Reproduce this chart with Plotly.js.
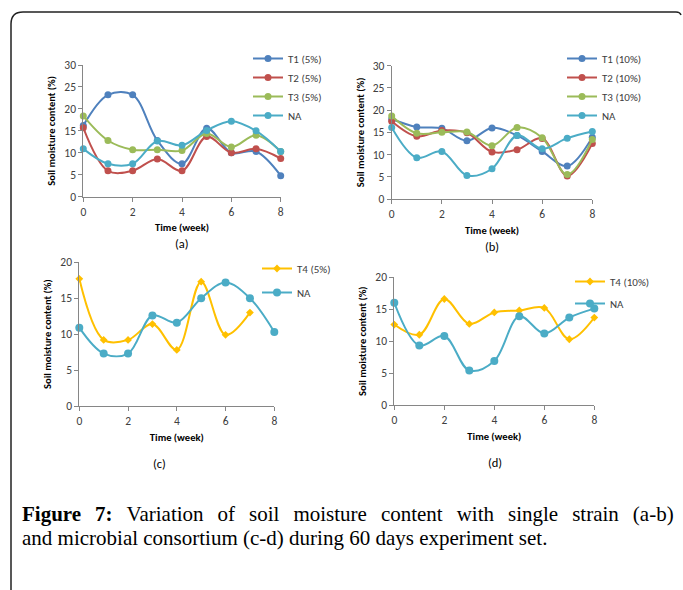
<!DOCTYPE html>
<html>
<head>
<meta charset="utf-8">
<script src="https://cdn.plot.ly/plotly-3.0.1.min.js"></script>
<style>
html,body{margin:0;padding:0;background:#fff;}
#chart{width:683px;height:590px;}
</style>
</head>
<body>
<div id="chart"></div>
<script>
// ---- data ----
const weeks = [0, 1, 2, 3, 4, 5, 6, 7, 8];
const weeksT4c = [0, 1, 2, 3, 4, 5, 6, 7];

// panel (a): 5% single strains
const a_T1 = [16.2, 23.2, 23.2, 12.8, 7.5, 15.6, 10.0, 10.3, 4.8];
const a_T2 = [15.7, 5.9, 5.9, 8.6, 5.9, 13.7, 10.0, 10.9, 8.7];
const a_T3 = [18.4, 12.8, 10.7, 10.7, 10.5, 14.4, 11.3, 14.0, 10.3];
const a_NA = [10.9, 7.5, 7.5, 12.7, 11.7, 15.1, 17.2, 15.0, 10.3];

// panel (b): 10% single strains
const b_T1 = [18.0, 16.2, 15.9, 13.1, 16.0, 14.3, 10.7, 7.4, 13.9];
const b_T2 = [17.5, 14.1, 15.4, 14.9, 10.6, 11.1, 13.6, 5.2, 12.5];
const b_T3 = [18.7, 14.8, 15.0, 15.1, 12.0, 16.1, 13.8, 5.5, 13.4];
const b_NA = [16.1, 9.3, 10.7, 5.3, 6.8, 14.3, 11.3, 13.7, 15.2];

// panel (c): consortium 5%
const c_T4 = [17.7, 9.2, 9.2, 11.4, 7.8, 17.3, 9.9, 13.0];
const c_NA = [10.9, 7.3, 7.3, 12.6, 11.6, 15.0, 17.2, 15.0, 10.3];

// panel (d): consortium 10%
const d_T4 = [12.6, 11.0, 16.6, 12.7, 14.5, 14.8, 15.2, 10.3, 13.7];
const d_NA = [16.0, 9.3, 10.8, 5.4, 6.9, 13.9, 11.2, 13.7, 15.1];

const xTitle = 'Time (week)';
const yTitle = 'Soil moisture content (%)';
const captionLabel = 'Figure 7:';
const captionLine1 = 'Variation of soil moisture content with single strain (a-b)';
const captionLine2 = 'and microbial consortium (c-d) during 60 days experiment set.';

// ---- styling ----
const W = 683, H = 590;
const px = x => x / W;
const py = y => 1 - y / H;
const FONT = 'Carlito, Lato, "Open Sans", sans-serif';
const SERIF = '"Liberation Serif", "DejaVu Serif", serif';
const C = {T1: '#4F81BD', T2: '#C0504D', T3: '#9BBB59', NA: '#4BACC6', T4: '#FFC000'};
// justified first caption line: widen the word gaps (en space + six-per-em space)
const JGAP = '\u2002\u2006';
const justify = s => s.split(' ').join(JGAP);

function tr(x, y, name, color, xa, ya, leg, sym, msize) {
  return {
    x: x, y: y, name: name, type: 'scatter', mode: 'lines+markers',
    xaxis: xa, yaxis: ya, legend: leg, cliponaxis: false,
    line: {color: color, width: 2, shape: 'spline', smoothing: 1},
    marker: {color: color, size: msize || 7, symbol: sym || 'circle'}
  };
}

const data = [
  tr(weeks, a_T1, 'T1 (5%)', C.T1, 'x', 'y', 'legend'),
  tr(weeks, a_T2, 'T2 (5%)', C.T2, 'x', 'y', 'legend'),
  tr(weeks, a_T3, 'T3 (5%)', C.T3, 'x', 'y', 'legend'),
  tr(weeks, a_NA, 'NA', C.NA, 'x', 'y', 'legend'),
  tr(weeks, b_T1, 'T1 (10%)', C.T1, 'x2', 'y2', 'legend2'),
  tr(weeks, b_T2, 'T2 (10%)', C.T2, 'x2', 'y2', 'legend2'),
  tr(weeks, b_T3, 'T3 (10%)', C.T3, 'x2', 'y2', 'legend2'),
  tr(weeks, b_NA, 'NA', C.NA, 'x2', 'y2', 'legend2'),
  tr(weeksT4c, c_T4, 'T4 (5%)', C.T4, 'x3', 'y3', 'legend3', 'diamond', 6),
  tr(weeks, c_NA, 'NA', C.NA, 'x3', 'y3', 'legend3', 'circle', 8),
  tr(weeks, d_T4, 'T4 (10%)', C.T4, 'x4', 'y4', 'legend4', 'diamond', 6),
  tr(weeks, d_NA, 'NA', C.NA, 'x4', 'y4', 'legend4', 'circle', 8)
];
// group the c/d entries separately for spacing
data.slice(8).forEach((t, i) => { t.legendgroup = 'g' + i; });

function xax(x0, x1, anchor) {
  return {
    domain: [px(x0), px(x1)], anchor: anchor, range: [0, 8], dtick: 2, tick0: 0,
    showgrid: false, zeroline: false, showline: true, linecolor: '#868686', linewidth: 1,
    ticks: 'outside', ticklen: 4, tickcolor: '#868686',
    tickfont: {family: FONT, size: 11.5, color: '#404040'},
    title: {text: '<b>' + xTitle + '</b>', font: {family: FONT, size: 10.5, color: '#000'}, standoff: 6},
    fixedrange: true
  };
}
function yax(y0, y1, anchor, max) {
  return {
    domain: [py(y1), py(y0)], anchor: anchor, range: [0, max], dtick: 5, tick0: 0,
    showgrid: false, zeroline: false, showline: true, linecolor: '#868686', linewidth: 1,
    ticks: 'outside', ticklen: 4, tickcolor: '#868686',
    tickfont: {family: FONT, size: 11.5, color: '#404040'},
    title: {text: '<b>' + yTitle + '</b>', font: {family: FONT, size: 10.5, color: '#000'}, standoff: 6},
    fixedrange: true
  };
}
function leg(x, y, gap) {
  return {
    x: px(x), y: py(y), xanchor: 'left', yanchor: 'top', xref: 'paper', yref: 'paper',
    bgcolor: 'rgba(0,0,0,0)', font: {family: FONT, size: 11, color: '#404040'},
    tracegroupgap: gap || 0, itemwidth: 30
  };
}

function lab(t, x, y) {
  return {text: t, x: px(x), y: py(y), xref: 'paper', yref: 'paper', showarrow: false,
    xanchor: 'center', yanchor: 'middle', font: {family: FONT, size: 12.5, color: '#000'}};
}

const framePath = 'M ' + px(11) + ' ' + py(590) + ' L ' + px(11) + ' ' + py(24) +
  ' Q ' + px(11) + ' ' + py(12) + ' ' + px(23) + ' ' + py(12) +
  ' L ' + px(676) + ' ' + py(12) + ' Q ' + px(680) + ' ' + py(12) + ' ' + px(681) + ' ' + py(15);

const layout = {
  width: W, height: H, margin: {l: 0, r: 0, t: 0, b: 0},
  paper_bgcolor: '#fff', plot_bgcolor: 'rgba(0,0,0,0)',
  showlegend: true,
  xaxis: xax(83.3, 280.7, 'y'),
  yaxis: yax(65, 196.7, 'x', 30),
  xaxis2: xax(391.7, 592.3, 'y2'),
  yaxis2: yax(65.7, 199, 'x2', 30),
  xaxis3: xax(79.3, 274.3, 'y3'),
  yaxis3: yax(262.3, 406, 'x3', 20),
  xaxis4: xax(394.3, 594.3, 'y4'),
  yaxis4: yax(277.3, 405, 'x4', 20),
  legend: leg(248, 44),
  legend2: leg(562, 44),
  legend3: leg(257, 254, 5),
  legend4: leg(570, 267, 3),
  annotations: [
    lab('(a)', 182, 244),
    lab('(b)', 492, 247),
    lab('(c)', 159, 463),
    lab('(d)', 495, 462),
    {text: '<b>' + justify(captionLabel) + '</b>' + JGAP + justify(captionLine1),
     x: px(20), y: py(513.5), xref: 'paper', yref: 'paper', showarrow: false,
     xanchor: 'left', yanchor: 'middle', align: 'left',
     font: {family: SERIF, size: 21, color: '#000'}},
    {text: captionLine2,
     x: px(20), y: py(537.5), xref: 'paper', yref: 'paper', showarrow: false,
     xanchor: 'left', yanchor: 'middle', align: 'left',
     font: {family: SERIF, size: 21, color: '#000'}}
  ],
  shapes: [
    {type: 'path', xref: 'paper', yref: 'paper', path: framePath,
     line: {color: '#222', width: 1.5}}
  ]
};

Plotly.newPlot('chart', data, layout, {staticPlot: true, displayModeBar: false});
</script>
</body>
</html>
